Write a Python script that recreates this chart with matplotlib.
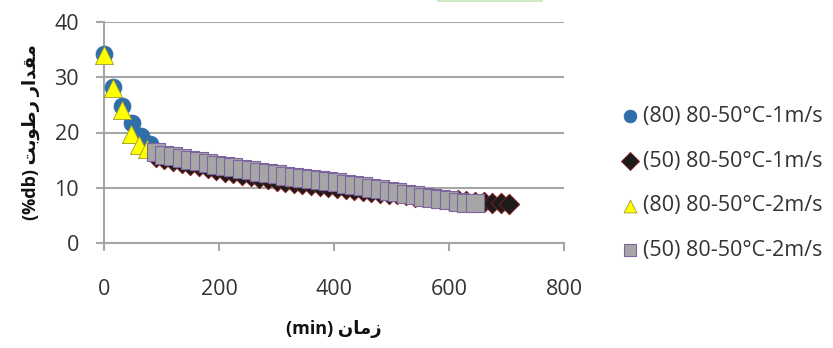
import matplotlib
matplotlib.use("Agg")
import matplotlib.pyplot as plt
from matplotlib.patches import Rectangle

# ---- data ----
t_80_1 = [0, 16, 32, 48, 64, 80]
m_80_1 = [34.2, 28.3, 24.8, 21.7, 19.4, 18.0]

t_50_1 = [90, 105, 120, 135, 150, 165, 180, 195, 210, 225, 240, 255, 270, 285,
          300, 315, 330, 345, 360, 375, 390, 405, 420, 435, 450, 465, 480, 495,
          510, 525, 540, 555, 570, 585, 600, 615, 630, 645, 660, 675, 690, 705]
m_50_1 = [15.6, 15.2, 14.9, 14.5, 14.2, 13.9, 13.5, 13.2, 12.9, 12.6, 12.3, 12.1,
          11.8, 11.6, 11.3, 11.1, 10.9, 10.7, 10.5, 10.3, 10.2, 10.0, 9.8, 9.6,
          9.5, 9.3, 9.1, 8.9, 8.8, 8.6, 8.4, 8.3, 8.1, 8.0, 7.8, 7.7, 7.6, 7.5,
          7.4, 7.3, 7.2, 7.1]

t_80_2 = [0, 16, 32, 47, 61, 74]
m_80_2 = [34.0, 28.0, 24.1, 19.8, 17.7, 17.1]

t_50_2 = [90, 105, 120, 135, 150, 165, 180, 195, 210, 225, 240, 255, 270, 285,
          300, 315, 330, 345, 360, 375, 390, 405, 420, 435, 450, 465, 480, 495,
          510, 525, 540, 555, 570, 585, 600, 615, 630, 645]
m_50_2 = [16.4, 16.0, 15.7, 15.4, 15.1, 14.8, 14.5, 14.2, 14.0, 13.7, 13.4, 13.2,
          12.9, 12.7, 12.4, 12.2, 12.0, 11.8, 11.6, 11.4, 11.2, 11.0, 10.7, 10.5,
          10.3, 10.0, 9.7, 9.5, 9.2, 8.9, 8.6, 8.3, 8.1, 7.9, 7.7, 7.5, 7.3, 7.2]

labels = ["(80) 80-50°C-1m/s", "(50) 80-50°C-1m/s",
          "(80) 80-50°C-2m/s", "(50) 80-50°C-2m/s"]
x_ticks = [0, 200, 400, 600, 800]
y_ticks = [0, 10, 20, 30, 40]

# Persian labels written in visual (shaped) order
xlabel = "(min) " + "\uFEE5\uFE8E\uFEE3\uFEAF"          # زمان (min)
ylabel = "(%db) " + "\uFE96\uFE91\uFEEE\uFEC3\uFEAD \uFEAD\uFE8D\uFEAA\uFED8\uFEE3"  # مقدار رطوبت (%db)

plt.rcParams['font.family'] = ['Open Sans', 'DejaVu Sans']

fig = plt.figure(figsize=(8.33, 3.48), dpi=100)
ax = fig.add_axes([104/833, 1-243/348, 460/833, 221/348])

gcol = '#a6a6a6'
ax.scatter(t_80_1, m_80_1, s=150, marker='o', facecolor='#2f6ea8', edgecolor='#2f6ea8',
           linewidth=0.5, clip_on=False, zorder=3, label=labels[0])
ax.scatter(t_50_1, m_50_1, s=110, marker='D', facecolor='#1c1c1c', edgecolor='#8b1a1a',
           linewidth=0.6, clip_on=False, zorder=3, label=labels[1])
ax.scatter(t_80_2, m_80_2, s=170, marker='^', facecolor='#ffff00', edgecolor='#9a9a30',
           linewidth=0.6, clip_on=False, zorder=3, label=labels[2])
ax.scatter(t_50_2, m_50_2, s=150, marker='s', facecolor='#a6a6a6', edgecolor='#8064a2',
           linewidth=0.8, clip_on=False, zorder=3, label=labels[3])

ax.set_xlim(0, 800)
ax.set_ylim(0, 40)
ax.set_xticks(x_ticks)
ax.set_yticks(y_ticks)
ax.grid(axis='y', color=gcol, linewidth=1.5)
ax.set_axisbelow(True)
for s in ['top', 'right']:
    ax.spines[s].set_visible(False)
for s in ['left', 'bottom']:
    ax.spines[s].set_color(gcol)
    ax.spines[s].set_linewidth(1.5)
ax.tick_params(axis='both', direction='out', length=6, width=1.5, color=gcol,
               labelsize=15.5, labelcolor='#333333')
ax.tick_params(axis='x', pad=20)
ax.tick_params(axis='y', pad=12)

ax.set_xlabel(xlabel, fontsize=13, fontweight='bold', labelpad=14, color='#111111')
ax.set_ylabel(ylabel, fontsize=13, fontweight='bold', labelpad=10, color='#111111')

leg = fig.legend(loc='upper left', bbox_to_anchor=(624/833, 1-106/348), frameon=False,
                 fontsize=15.5, handlelength=0.6, handletextpad=0.3, labelspacing=1.1,
                 borderpad=0, borderaxespad=0, scatterpoints=1)
for h in leg.legend_handles:
    h.set_sizes([85])
for txt in leg.get_texts():
    txt.set_color('#333333')

fig.patches.append(Rectangle((437/833, 1-2/348), 106/833, 2/348, transform=fig.transFigure,
                             facecolor='#cdeac4', edgecolor='none'))

fig.savefig('out.png', dpi=100)
